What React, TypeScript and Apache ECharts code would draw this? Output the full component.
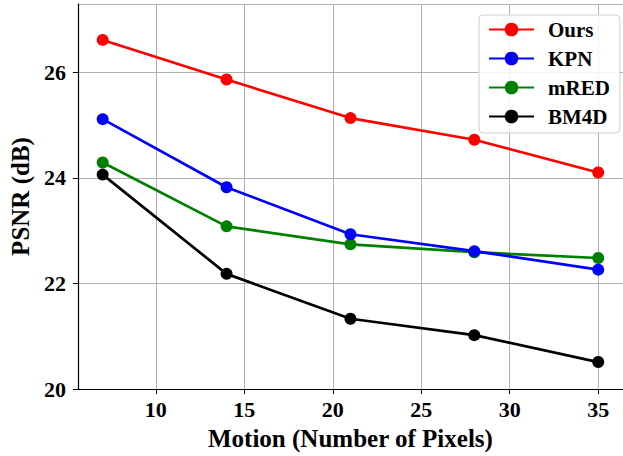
import React, { useEffect, useRef } from "react";
import * as echarts from "echarts";

const motion = [7, 14, 21, 28, 35];
const ours = [26.61, 25.86, 25.13, 24.72, 24.1];
const kpn = [25.11, 23.82, 22.93, 22.61, 22.26];
const mred = [24.29, 23.08, 22.74, 22.59, 22.48];
const bm4d = [24.06, 22.18, 21.33, 21.02, 20.51];
const seriesNames = ["Ours", "KPN", "mRED", "BM4D"];
const seriesColors = ["#ff0000", "#0000ff", "#008000", "#000000"];
const seriesValues = [ours, kpn, mred, bm4d];

const FONT = "'Liberation Serif', 'Times New Roman', serif";

export default function App() {
  const ref = useRef<HTMLDivElement>(null);
  useEffect(() => {
    document.body.style.margin = "0";
    const chart = echarts.init(ref.current!, null, { renderer: "svg" });
    chart.setOption({
      animation: false,
      backgroundColor: "#ffffff",
      grid: { left: 75, top: 4, width: 551, height: 388, containLabel: false },
      xAxis: {
        type: "value",
        min: 5.6,
        max: 36.4,
        splitNumber: 6,
        name: "Motion (Number of Pixels)",
        nameLocation: "middle",
        nameGap: 37,
        nameTextStyle: { fontFamily: FONT, fontWeight: "bold", fontSize: 25, color: "#000" },
        axisLine: { show: true, lineStyle: { color: "#000", width: 1.2 } },
        axisTick: { show: true, length: 5, lineStyle: { color: "#000", width: 1 } },
        axisLabel: {
          showMinLabel: false,
          showMaxLabel: false,
          margin: 9,
          fontFamily: FONT,
          fontWeight: "bold",
          fontSize: 22,
          color: "#000",
          formatter: (v: number) => (Math.abs(v % 5) < 1e-6 ? String(v) : ""),
        },
        splitLine: { show: true, lineStyle: { color: "#b0b0b0", width: 1 } },
      },
      yAxis: {
        type: "value",
        min: 20,
        max: 27.29,
        interval: 2,
        name: "PSNR (dB)",
        nameLocation: "middle",
        nameGap: 43,
        nameRotate: 90,
        nameTextStyle: { fontFamily: FONT, fontWeight: "bold", fontSize: 25, color: "#000" },
        axisLine: { show: true, lineStyle: { color: "#000", width: 1.2 } },
        axisTick: { show: true, length: 5, lineStyle: { color: "#000", width: 1 } },
        axisLabel: {
          showMaxLabel: false,
          margin: 12,
          fontFamily: FONT,
          fontWeight: "bold",
          fontSize: 22,
          color: "#000",
        },
        splitLine: { show: true, lineStyle: { color: "#b0b0b0", width: 1 } },
      },
      legend: {
        left: 479,
        top: 15,
        orient: "vertical",
        data: seriesNames,
        itemWidth: 45,
        itemHeight: 17,
        itemGap: 8,
        padding: [4, 10, 6, 9],
        borderColor: "#d0d0d0",
        borderWidth: 1,
        borderRadius: 4,
        backgroundColor: "rgba(255,255,255,0.85)",
        textStyle: {
          fontFamily: FONT,
          fontWeight: "bold",
          fontSize: 21,
          color: "#000",
          lineHeight: 21,
          padding: [0, 0, 0, 9],
        },
      },
      series: seriesNames.map((name, i) => ({
        name,
        type: "line",
        data: motion.map((m, j) => [m, seriesValues[i][j]]),
        symbol: "circle",
        symbolSize: 12,
        color: seriesColors[i],
        lineStyle: { width: 2.7, color: seriesColors[i] },
        itemStyle: { color: seriesColors[i] },
        z: 10 - i,
      })),
    });
    return () => chart.dispose();
  }, []);
  return (
    <div
      ref={ref}
      style={{ position: "fixed", left: 0, top: 0, width: 623, height: 456 }}
    />
  );
}
